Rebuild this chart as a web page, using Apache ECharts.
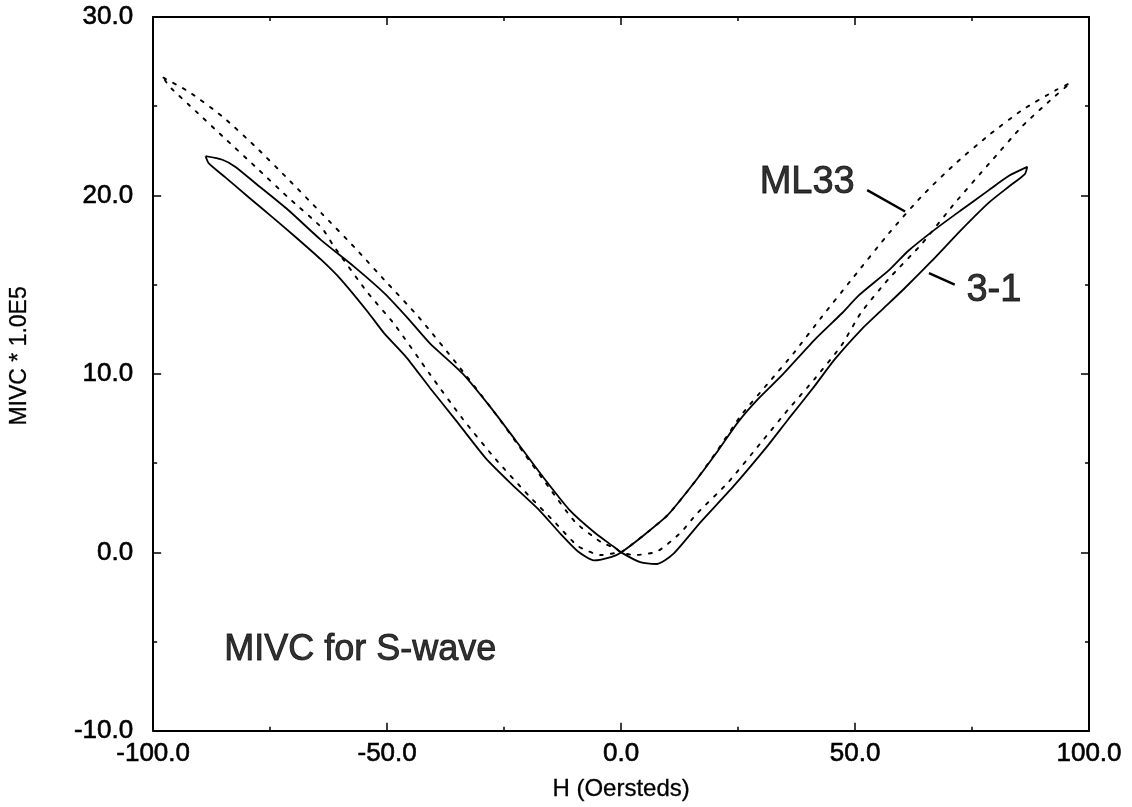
<!DOCTYPE html>
<html>
<head>
<meta charset="utf-8">
<title>MIVC for S-wave</title>
<script src="https://cdn.jsdelivr.net/npm/echarts@6/dist/echarts.min.js"></script>
<style>
  html, body { margin: 0; padding: 0; background: #fff; }
  #chart { width: 1132px; height: 807px; }
</style>
</head>
<body>
<div id="chart"></div>
<script>
// MIVC (x 1.0E5) versus applied field H (Oe) for two samples.
// Each loop is stored as four branches, every branch listed with H increasing.

// Sample 3-1 (solid)
const s31UpperLeft = [[-88.8,22.2],[-85.2,22.0],[-82.4,21.6],[-78.2,20.7],[-71.2,19.2],[-64.1,17.5],[-57.0,16.0],[-50.5,14.5],[-45.5,13.1],[-40.8,11.7],[-33.8,10.0],[-27.5,8.0],[-22.6,6.3],[-16.9,4.3],[-11.1,2.4],[-5.6,1.1],[-1.5,0.3],[0,0]];
const s31LowerLeft = [[-88.8,22.2],[-88.1,21.8],[-84.5,21.0],[-79.6,19.9],[-74.6,18.8],[-69.7,17.7],[-64.1,16.4],[-59.9,15.3],[-54.2,13.5],[-50.7,12.3],[-45.8,10.9],[-40.8,9.2],[-35.3,7.4],[-29.0,5.3],[-23.3,3.8],[-17.6,2.4],[-12.8,1.0],[-9.2,0.05],[-5.8,-0.45],[-2.0,-0.25],[0,0]];
const s31UpperRight = [[0,0],[4.8,0.95],[10.0,2.1],[15.6,3.9],[20.7,5.7],[25.0,7.3],[29.3,8.6],[34.3,9.9],[41.3,11.9],[47.2,13.4],[50.8,14.4],[57.2,15.8],[61.4,16.9],[67.1,18.1],[72.8,19.2],[78.6,20.3],[82.9,21.1],[86.8,21.6]];
const s31LowerRight = [[0,0],[4.1,-0.55],[7.7,-0.65],[11.1,-0.1],[17.0,1.7],[24.0,3.7],[31.4,6.0],[35.7,7.45],[41.3,9.3],[45.6,10.8],[51.4,12.5],[55.8,13.6],[60.6,14.8],[66.3,16.3],[72.8,18.1],[78.6,19.6],[82.9,20.5],[86.3,21.2],[86.8,21.6]];

// Sample ML33 (dotted)
const ml33UpperLeft = [[-97.8,26.6],[-92.3,25.8],[-85.1,24.4],[-78.0,22.7],[-71.1,20.9],[-64.0,19.0],[-57.0,17.1],[-50.0,15.1],[-43.3,13.2],[-35.2,10.6],[-27.5,8.0],[-21.0,5.65],[-15.3,3.6],[-9.8,1.7],[-4.4,0.6],[-1.0,0.2],[0,0]];
const ml33LowerLeft = [[-97.8,26.6],[-96.5,26.1],[-90.8,24.7],[-85.1,23.3],[-78.1,21.6],[-71.2,19.9],[-64.0,18.2],[-61.5,17.2],[-54.3,14.6],[-48.5,12.8],[-40.9,10.0],[-33.9,7.5],[-26.9,5.25],[-19.8,3.2],[-14.2,1.7],[-9.2,0.35],[-4.3,-0.15],[-1.5,-0.05],[0,0]];
const ml33UpperRight = [[0,0],[4.8,0.95],[10.0,2.1],[15.6,3.9],[20.7,5.76],[25.7,7.7],[31.5,9.5],[37.0,11.2],[42.9,13.2],[49.3,15.3],[57.3,17.9],[64.4,20.0],[71.5,21.8],[78.7,23.4],[85.8,24.8],[92.9,25.9],[96.0,26.3]];
const ml33LowerRight = [[0,0],[2.7,-0.15],[7.7,0.05],[12.7,1.1],[16.3,2.2],[22.8,3.9],[29.9,6.15],[35.7,8.0],[41.3,9.7],[47.1,11.6],[51.2,13.4],[57.1,15.3],[64.3,17.3],[71.4,19.6],[78.7,21.8],[85.8,23.9],[91.6,25.3],[96.0,26.3]];

// Labels pointing at the two loops, plus the plot caption
const curveNames = ['3-1', 'ML33'];
const captionText = 'MIVC for S-wave';
const ml33Leader = [[52.6,20.3],[60.7,19.1]];
const s31Leader = [[65.8,15.65],[71.3,15.0]];
const ml33LabelAt = [29.6,20.7];
const s31LabelAt = [73.8,14.7];
const captionAt = [-84.8,-5.5];

// Axis settings
const xRange = [-100, 100], xStep = 50;
const yRange = [-10, 30], yStep = 10;
const xName = 'H (Oersteds)';
const yName = 'MIVC * 1.0E5';

// Sweep order: down the upper-left branch, through the right dip,
// out to +H, back along the upper-right branch and the left dip.
function buildLoop(upperLeft, lowerRight, upperRight, lowerLeft) {
  return upperLeft
    .concat(lowerRight.slice(1))
    .concat(upperRight.slice().reverse().slice(1))
    .concat(lowerLeft.slice().reverse().slice(1));
}

const s31Loop = buildLoop(s31UpperLeft, s31LowerRight, s31UpperRight, s31LowerLeft);
const ml33Loop = buildLoop(ml33UpperLeft, ml33LowerRight, ml33UpperRight, ml33LowerLeft);

const FONT = '"Liberation Sans", Arial, Helvetica, sans-serif';
const INK = '#000';

function frameAxis(extra) {
  return Object.assign({
    type: 'value',
    axisLine: { show: true, onZero: false, lineStyle: { color: INK, width: 2 } },
    axisTick: { show: true, inside: true, length: 8, lineStyle: { color: INK, width: 1.5 } },
    minorTick: { show: true, splitNumber: 2, length: 4, lineStyle: { color: INK, width: 1.5 } },
    splitLine: { show: false },
    minorSplitLine: { show: false }
  }, extra);
}

const tickLabel = {
  color: INK, fontFamily: FONT, fontSize: 26,
  textBorderColor: INK, textBorderWidth: 0.6,
  formatter: v => v.toFixed(1)
};

const chart = echarts.init(document.getElementById('chart'), null, { renderer: 'canvas' });

chart.setOption({
  animation: false,
  backgroundColor: '#fff',
  grid: { left: 150, right: 43, top: 17, bottom: 76, containLabel: false },
  xAxis: [
    frameAxis({
      position: 'bottom', min: xRange[0], max: xRange[1], interval: xStep,
      axisLabel: Object.assign({ margin: 10, showMinLabel: true, showMaxLabel: true }, tickLabel),
      name: xName, nameLocation: 'middle', nameGap: 47,
      nameTextStyle: { color: INK, fontFamily: FONT, fontSize: 24, textBorderColor: INK, textBorderWidth: 0.3 }
    }),
    frameAxis({
      position: 'top', min: xRange[0], max: xRange[1], interval: xStep,
      axisLabel: { show: false }
    })
  ],
  yAxis: [
    frameAxis({
      position: 'left', min: yRange[0], max: yRange[1], interval: yStep,
      axisLabel: Object.assign({ margin: 20 }, tickLabel),
      name: yName, nameLocation: 'middle', nameGap: 122, nameRotate: 90,
      nameTextStyle: { color: INK, fontFamily: FONT, fontSize: 23, textBorderColor: INK, textBorderWidth: 0.3, padding: [0, 0, 0, 36] }
    }),
    frameAxis({
      position: 'right', min: yRange[0], max: yRange[1], interval: yStep,
      axisLabel: { show: false }
    })
  ],
  series: [
    {
      name: curveNames[0], type: 'line', data: s31Loop,
      showSymbol: false, smooth: 0.2, clip: true,
      lineStyle: { color: INK, width: 1.8, type: 'solid' }
    },
    {
      name: curveNames[1], type: 'line', data: ml33Loop,
      showSymbol: false, smooth: 0.2, clip: true,
      lineStyle: { color: INK, width: 1.9, type: [3, 8], cap: 'round' }
    },
    {
      name: 'leader-ml33', type: 'line', data: ml33Leader,
      showSymbol: false, silent: true,
      lineStyle: { color: INK, width: 2.4 }
    },
    {
      name: 'leader-31', type: 'line', data: s31Leader,
      showSymbol: false, silent: true,
      lineStyle: { color: INK, width: 2.4 }
    },
    {
      name: 'notes', type: 'scatter', silent: true,
      symbol: 'circle', symbolSize: 0.1,
      itemStyle: { color: 'rgba(0,0,0,0)' },
      label: {
        show: true, position: 'right', distance: 0,
        color: INK, fontFamily: FONT,
        textBorderColor: INK, textBorderWidth: 0.9,
        formatter: p => p.name
      },
      data: [
        { name: curveNames[1], value: ml33LabelAt, label: { fontSize: 38 } },
        { name: curveNames[0], value: s31LabelAt, label: { fontSize: 38 } },
        { name: captionText, value: captionAt, label: { fontSize: 36 } }
      ]
    }
  ]
});
</script>
</body>
</html>
